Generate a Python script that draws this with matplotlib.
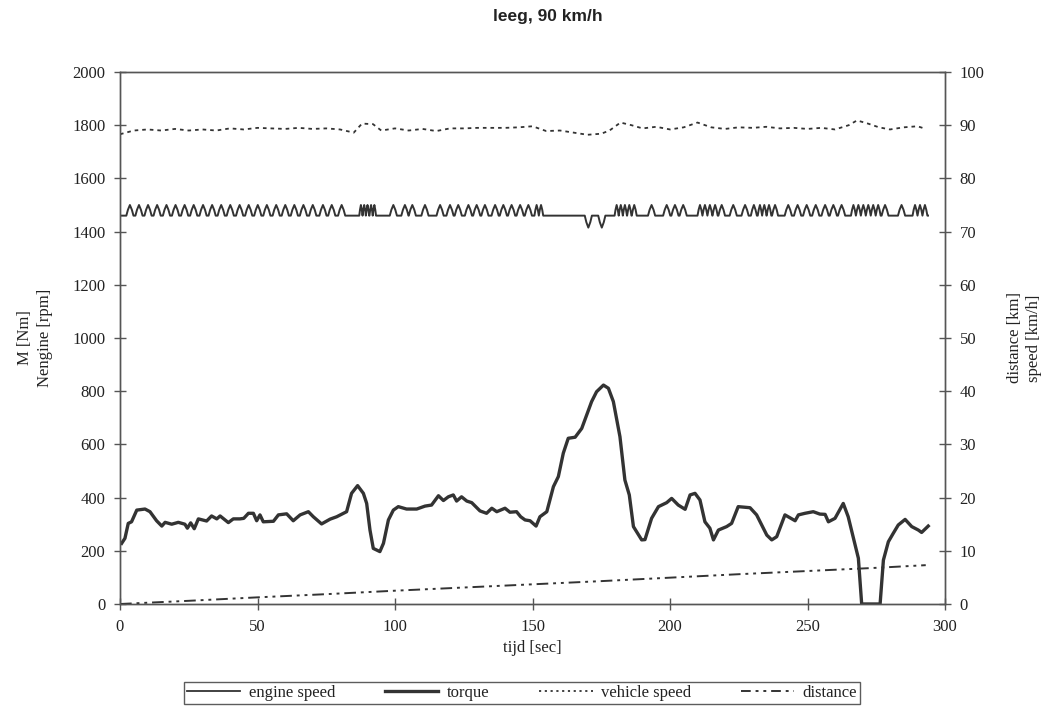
import matplotlib
matplotlib.use("Agg")
import matplotlib.pyplot as plt
from matplotlib.lines import Line2D

# ---- data -------------------------------------------------------------
# torque [Nm] versus time [s]
torque_t = [0.6, 1.8, 3.0, 4.2, 6.1, 9.1, 10.9, 13.3, 15.2, 16.4, 18.8, 21.2, 23.6, 24.5,
            25.7, 27.0, 28.5, 31.5, 33.3, 35.2, 36.4, 39.4, 41.2, 43.6, 45.0, 46.7, 48.5,
            49.7, 50.9, 52.1, 55.8, 57.6, 60.6, 63.0, 65.5, 68.5, 70.3, 73.3, 76.4, 78.8,
            82.4, 84.2, 86.4, 88.5, 89.7, 90.9, 92.1, 94.5, 95.8, 97.6, 99.4, 101.2, 104.2,
            107.9, 110.9, 113.3, 115.8, 117.6, 119.4, 121.2, 122.4, 124.2, 126.1, 127.9,
            130.9, 133.3, 135.2, 137.0, 140.0, 141.8, 144.2, 145.7, 147.3, 149.1, 151.3,
            152.7, 155.2, 157.6, 159.4, 161.2, 163.0, 165.5, 167.9, 169.7, 171.5, 173.3,
            175.8, 177.6, 179.4, 181.8, 183.6, 185.2, 186.7, 189.7, 190.9, 193.3, 195.8,
            198.8, 200.6, 203.0, 205.5, 207.3, 209.1, 210.9, 212.7, 214.5, 215.8, 217.6,
            220.6, 222.4, 224.8, 229.1, 231.5, 235.2, 237.0, 238.8, 241.8, 245.5, 246.7,
            249.1, 252.1, 254.5, 256.4, 257.6, 260.0, 263.0, 264.8, 266.7, 268.5, 269.7,
            276.4, 277.6, 279.4, 281.2, 283.0, 285.5, 287.9, 290.3, 291.5, 293.9]
torque_v = [228, 247, 303, 309, 353, 357, 347, 313, 293, 307, 300, 307, 300, 285,
            305, 283, 320, 312, 331, 320, 331, 306, 320, 320, 322, 341, 341,
            313, 335, 309, 311, 335, 339, 313, 335, 347, 328, 301, 319, 328,
            347, 416, 445, 416, 378, 278, 209, 197, 228, 316, 353, 366, 357,
            357, 368, 372, 407, 389, 403, 410, 387, 403, 387, 381,
            350, 341, 360, 347, 360, 345, 347, 328, 316, 313, 293,
            328, 347, 441, 479, 567, 623, 627, 660, 711, 761, 798,
            823, 811, 761, 629, 466, 410, 291, 241, 242, 322, 366,
            381, 397, 372, 356, 410, 416, 391, 309, 285, 241, 278,
            291, 303, 366, 362, 335, 259, 241, 253, 335, 313, 335,
            341, 347, 338, 337, 309, 322, 378, 328, 247, 172, 0,
            0, 165, 234, 266, 297, 318, 291, 278, 269, 293]

# engine speed [rpm]: idle plateau, short governor peaks and two dips
engine_base = 1460
engine_peak = 1500
engine_dip = 1415
engine_t_start, engine_t_end = 0.0, 293.8
engine_peaks = [3.6, 6.9, 10.2, 13.5, 16.9, 20.2, 23.5, 26.8, 30.2, 33.5, 36.8, 40.1,
                43.5, 46.8, 50.1, 53.4, 56.8, 60.1, 63.4, 66.7, 70.1, 73.8, 77.0, 80.6,
                87.6, 88.8, 90.0, 91.3, 92.5, 99.4, 103.6, 106.3, 110.9, 116.4, 120.0,
                123.0, 126.7, 129.7, 132.7, 136.4, 139.4, 142.4, 145.5, 148.5, 151.5,
                153.1, 180.6, 182.1, 183.6, 185.2, 187.0, 193.3, 198.8, 201.8, 204.8,
                210.9, 212.7, 214.5, 216.4, 218.8, 223.0, 227.3, 230.5, 232.7, 234.3,
                236.0, 238.2, 243.0, 246.4, 249.7, 253.0, 256.4, 259.4, 262.4, 266.7,
                268.5, 270.3, 272.1, 273.9, 275.7, 278.2, 284.2, 289.1, 290.9, 292.7]
engine_dips = [170.3, 175.2]

# vehicle speed [km/h]
speed_t = [0, 5, 10, 15, 20, 25, 30, 35, 40, 45, 50, 55, 60, 65, 70, 75, 80, 85, 88, 92,
           95, 100, 105, 110, 115, 120, 125, 130, 135, 140, 145, 150, 155, 160, 165, 170,
           175, 178, 182, 186, 190, 195, 200, 205, 210, 215, 220, 225, 230, 235, 240, 245,
           250, 255, 260, 265, 268, 272, 276, 280, 285, 290, 293]
speed_v = [88.3, 89.0, 89.2, 89.0, 89.3, 89.0, 89.2, 89.0, 89.4, 89.2, 89.5, 89.4, 89.3,
           89.5, 89.3, 89.4, 89.2, 88.6, 90.3, 90.2, 89.0, 89.4, 89.0, 89.3, 88.9, 89.4,
           89.4, 89.5, 89.5, 89.5, 89.6, 89.8, 88.9, 89.0, 88.6, 88.2, 88.4, 89.0, 90.5,
           90.0, 89.4, 89.7, 89.2, 89.6, 90.5, 89.6, 89.3, 89.6, 89.5, 89.7, 89.4, 89.5,
           89.3, 89.5, 89.2, 90.0, 90.9, 90.3, 89.6, 89.2, 89.6, 89.8, 89.3]

# distance covered [km]
dist_t = [0, 25, 50, 75, 100, 125, 150, 175, 200, 225, 250, 275, 293]
dist_v = [0.0, 0.6, 1.25, 1.85, 2.5, 3.1, 3.7, 4.3, 4.95, 5.6, 6.2, 6.8, 7.3]

left_ticks = list(range(0, 2001, 200))
right_ticks = list(range(0, 101, 10))
x_ticks = list(range(0, 301, 50))


# ---- build the engine speed trace -------------------------------------
def engine_trace():
    events = sorted([(p, engine_peak) for p in engine_peaks] +
                    [(d, engine_dip) for d in engine_dips])
    ts, vs = [engine_t_start], [engine_base]
    times = [e[0] for e in events]
    for i, (c, val) in enumerate(events):
        gap_l = c - times[i - 1] if i > 0 else 3.0
        gap_r = times[i + 1] - c if i < len(times) - 1 else 3.0
        w = min(1.3, gap_l / 2.0, gap_r / 2.0)
        ts += [c - w, c - 0.55 * w, c, c + 0.55 * w, c + w]
        vs += [engine_base, engine_base + 0.55 * (val - engine_base), val,
               engine_base + 0.55 * (val - engine_base), engine_base]
    ts.append(engine_t_end)
    vs.append(engine_base)
    return ts, vs


eng_t, eng_v = engine_trace()

# ---- figure -------------------------------------------------------------
ink = "#333333"
serif = "Liberation Serif"

fig = plt.figure(figsize=(10.48, 7.06), dpi=100)
ax = fig.add_axes([120 / 1048, 1 - 604 / 706, 825 / 1048, 532 / 706])
ax2 = ax.twinx()

ax.plot(eng_t, eng_v, color=ink, lw=1.4, solid_joinstyle="round")
ax.plot(torque_t, torque_v, color=ink, lw=2.4, solid_joinstyle="round")
ax2.plot(speed_t, speed_v, color=ink, lw=1.3, linestyle=(0, (2.0, 2.2)))
ax2.plot(dist_t, dist_v, color=ink, lw=1.4, linestyle=(0, (6, 2.5, 1.5, 2.5, 1.5, 2.5)))

ax.set_xlim(0, 300)
ax.set_ylim(0, 2000)
ax2.set_ylim(0, 100)
ax.set_xticks(x_ticks)
ax.set_yticks(left_ticks)
ax2.set_yticks(right_ticks)

for a in (ax, ax2):
    for s in a.spines.values():
        s.set_color("#555555")
        s.set_linewidth(1.0)
    a.tick_params(direction="inout", length=9, width=1.0, color="#555555",
                  labelsize=12, labelcolor="#222222")
    for lab in a.get_xticklabels() + a.get_yticklabels():
        lab.set_fontfamily(serif)
ax.tick_params(axis="y", pad=6)
ax2.tick_params(axis="y", pad=6)
ax.tick_params(axis="x", pad=6)

ax.set_xlabel("tijd [sec]", fontfamily=serif, fontsize=12, color="#222222", labelpad=4)
ax.set_ylabel("M [Nm]\nNengine [rpm]", fontfamily=serif, fontsize=12,
              color="#222222", labelpad=14, linespacing=1.3)
ax2.set_ylabel("distance [km]\nspeed [km/h]", fontfamily=serif, fontsize=12,
               color="#222222", labelpad=16, linespacing=1.3, rotation=90)

fig.text(548 / 1048, 1 - 17 / 706, "leeg, 90 km/h", ha="center", va="center",
         fontfamily="Liberation Sans", fontweight="bold", fontsize=12.5, color="#222222")

handles = [
    Line2D([], [], color=ink, lw=1.3),
    Line2D([], [], color=ink, lw=2.4),
    Line2D([], [], color=ink, lw=1.3, linestyle=(0, (1.2, 2.0))),
    Line2D([], [], color=ink, lw=1.4, linestyle=(0, (5, 2.5, 1.5, 2.5, 1.5, 2.5))),
]
labels = ["engine speed", "torque", "vehicle speed", "distance"]
leg = fig.legend(handles, labels, loc="center", ncol=4,
                 bbox_to_anchor=(522 / 1048, 1 - 693 / 706),
                 prop={"family": serif, "size": 12}, frameon=True, fancybox=False,
                 edgecolor="#333333", handlelength=3.2, columnspacing=3.0,
                 borderpad=0.2, handletextpad=0.5, labelcolor="#222222")
leg.get_frame().set_linewidth(1.0)

fig.savefig("out.png", dpi=100, facecolor="white")
